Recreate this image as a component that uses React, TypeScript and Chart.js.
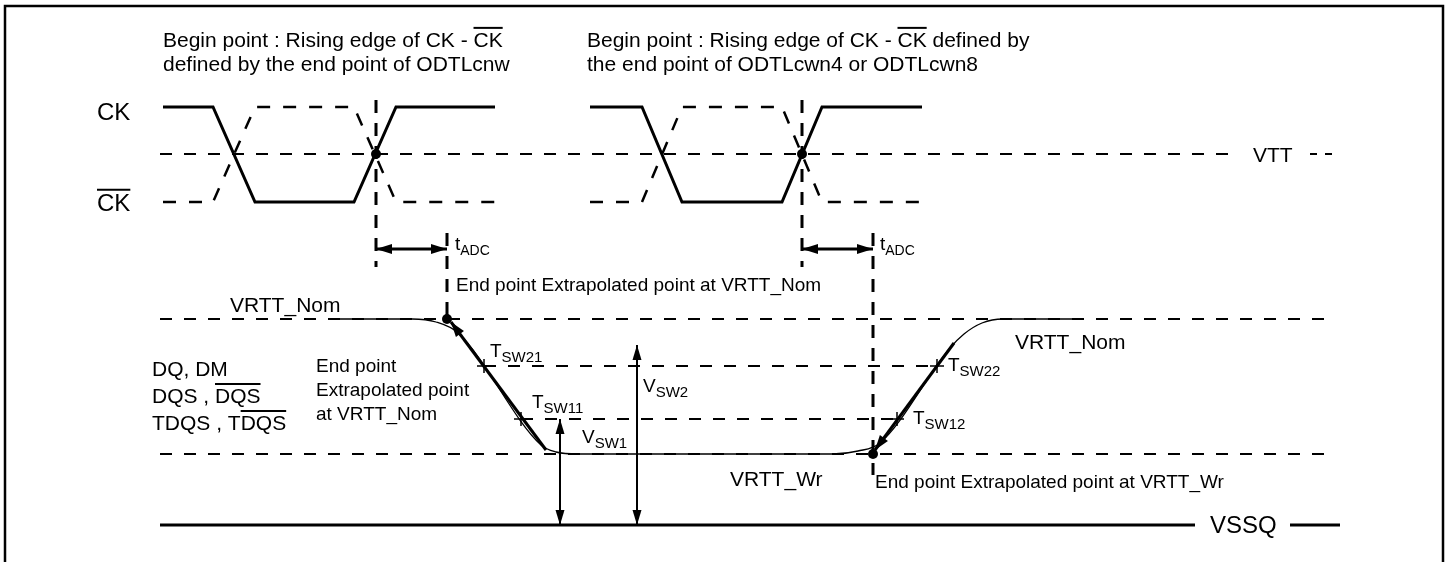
import React, { useEffect, useRef } from 'react';
import { Chart, registerables } from 'chart.js';

Chart.register(...registerables);

const W = 1450;
const H = 562;

// ---- signal levels (diagram units, y grows downward) ----
const CK_HIGH = 107;
const VTT_LEVEL = 154;
const CK_LOW = 202;
const VRTT_NOM = 319;
const VSW2_LEVEL = 366;
const VSW1_LEVEL = 419;
const VRTT_WR = 454;
const VSSQ_LEVEL = 525;

// ---- frame ----
const frameX = [5, 5, 1443, 1443];
const frameY = [562, 6, 6, 562];

// ---- clock edges (time points) ----
const ckTimesA = [163, 213, 255, 354, 396, 495];
const ckTimesB = [590, 642, 682, 782, 822, 922];
const ckLevels = [CK_HIGH, CK_HIGH, CK_LOW, CK_LOW, CK_HIGH, CK_HIGH];
const ckBarLevels = [CK_LOW, CK_LOW, CK_HIGH, CK_HIGH, CK_LOW, CK_LOW];

// ---- reference level spans ----
const vttSpan = [160, 1237];
const vttTailSpan = [1310, 1336];
const nomSpan = [160, 1328];
const wrSpan = [160, 1328];
const vsw2Span = [484, 937];
const vsw1Span = [521, 897];
const vssqSpanA = [160, 1195];
const vssqSpanB = [1290, 1340];

// ---- timing references ----
const ckCross = [376, 802];
const endPointT = [447, 873];
const ckMarkerSpan = [100, 267];
const tadcRefSpanA = [233, VRTT_NOM];
const tadcRefSpanB = [233, 475];
const tadcY = 249;

// ---- DQ waveform ----
const dqX = [337, 412, 436, 458, 541, 556, 578, 833, 858, 880, 950, 964, 982, 1003, 1077];
const dqY = [319, 319, 322, 333, 445, 452, 454, 454, 451, 443, 348, 334, 323, 319, 319];
const fallArrowX = [546, 451];
const fallArrowY = [450, 322];
const riseArrowX = [954, 875];
const riseArrowY = [343, 450];

// ---- switching points ----
const tswX = [484, 521, 937, 897];
const tswY = [VSW2_LEVEL, VSW1_LEVEL, VSW2_LEVEL, VSW1_LEVEL];
const vsw1X = 560;
const vsw2X = 637;
const vsw2Top = 345;

const dotsX = [ckCross[0], ckCross[1], endPointT[0], endPointT[1]];
const dotsY = [VTT_LEVEL, VTT_LEVEL, VRTT_NOM, VRTT_WR];

// ---- annotations ----
type Part = { t: string; over?: boolean; sub?: boolean };
type Label = { parts: Part[]; x: number; y: number; size: number; sub?: number };

const labels: Label[] = [
  { parts: [{ t: 'Begin point : Rising edge of CK - ' }, { t: 'CK', over: true }], x: 163, y: 47, size: 21 },
  { parts: [{ t: 'defined by the end point of ODTLcnw' }], x: 163, y: 71, size: 21 },
  { parts: [{ t: 'Begin point : Rising edge of CK - ' }, { t: 'CK', over: true }, { t: ' defined by' }], x: 587, y: 47, size: 21 },
  { parts: [{ t: 'the end point of ODTLcwn4 or ODTLcwn8' }], x: 587, y: 71, size: 21 },
  { parts: [{ t: 'CK' }], x: 97, y: 120, size: 24 },
  { parts: [{ t: 'CK', over: true }], x: 97, y: 211, size: 24 },
  { parts: [{ t: 'VTT' }], x: 1253, y: 162, size: 21 },
  { parts: [{ t: 't' }, { t: 'ADC', sub: true }], x: 455, y: 250, size: 19, sub: 14 },
  { parts: [{ t: 't' }, { t: 'ADC', sub: true }], x: 880, y: 250, size: 19, sub: 14 },
  { parts: [{ t: 'End point Extrapolated point at VRTT_Nom' }], x: 456, y: 291, size: 19 },
  { parts: [{ t: 'VRTT_Nom' }], x: 230, y: 312, size: 21 },
  { parts: [{ t: 'DQ, DM' }], x: 152, y: 376, size: 21 },
  { parts: [{ t: 'DQS , ' }, { t: 'DQS', over: true }], x: 152, y: 403, size: 21 },
  { parts: [{ t: 'TDQS , T' }, { t: 'DQS', over: true }], x: 152, y: 430, size: 21 },
  { parts: [{ t: 'End point' }], x: 316, y: 372, size: 19 },
  { parts: [{ t: 'Extrapolated point' }], x: 316, y: 396, size: 19 },
  { parts: [{ t: 'at VRTT_Nom' }], x: 316, y: 420, size: 19 },
  { parts: [{ t: 'T' }, { t: 'SW21', sub: true }], x: 490, y: 357, size: 19, sub: 15 },
  { parts: [{ t: 'V' }, { t: 'SW2', sub: true }], x: 643, y: 392, size: 19, sub: 15 },
  { parts: [{ t: 'T' }, { t: 'SW11', sub: true }], x: 532, y: 408, size: 19, sub: 15 },
  { parts: [{ t: 'V' }, { t: 'SW1', sub: true }], x: 582, y: 443, size: 19, sub: 15 },
  { parts: [{ t: 'VRTT_Wr' }], x: 730, y: 486, size: 21 },
  { parts: [{ t: 'End point Extrapolated point at VRTT_Wr' }], x: 875, y: 488, size: 19 },
  { parts: [{ t: 'T' }, { t: 'SW22', sub: true }], x: 948, y: 371, size: 19, sub: 15 },
  { parts: [{ t: 'T' }, { t: 'SW12', sub: true }], x: 913, y: 424, size: 19, sub: 15 },
  { parts: [{ t: 'VRTT_Nom' }], x: 1015, y: 349, size: 21 },
  { parts: [{ t: 'VSSQ' }], x: 1210, y: 533, size: 24 },
];

const FONT = '"Liberation Sans", Arial, Helvetica, sans-serif';

const line = (xs: number[], ys: number[], opts: any = {}) => ({
  data: xs.map((x, i) => ({ x, y: ys[i] })),
  showLine: true,
  pointRadius: 0,
  borderColor: '#000',
  backgroundColor: '#000',
  borderWidth: 2,
  fill: false,
  ...opts,
});

const DASH_H = [12, 12];
const DASH_V = [13, 10];
const DASH_CK = [13, 13];

const arrowPlugin = {
  id: 'arrowHeads',
  afterDatasetsDraw(chart: any) {
    const ctx = chart.ctx;
    chart.data.datasets.forEach((ds: any, i: number) => {
      if (!ds.arrow) return;
      const pts = chart.getDatasetMeta(i).data;
      if (pts.length < 2) return;
      const len = ds.arrowLen || 15;
      const half = ds.arrowHalf || 5;
      const head = (tip: any, from: any) => {
        const dx = tip.x - from.x;
        const dy = tip.y - from.y;
        const d = Math.hypot(dx, dy) || 1;
        const ux = dx / d;
        const uy = dy / d;
        const bx = tip.x - ux * len;
        const by = tip.y - uy * len;
        ctx.beginPath();
        ctx.moveTo(tip.x, tip.y);
        ctx.lineTo(bx - uy * half, by + ux * half);
        ctx.lineTo(bx + uy * half, by - ux * half);
        ctx.closePath();
        ctx.fill();
      };
      ctx.save();
      ctx.fillStyle = '#000';
      const n = pts.length;
      if (ds.arrow === 'end' || ds.arrow === 'both') head(pts[n - 1], pts[n - 2]);
      if (ds.arrow === 'start' || ds.arrow === 'both') head(pts[0], pts[1]);
      ctx.restore();
    });
  },
};

const textPlugin = {
  id: 'richText',
  afterDraw(chart: any) {
    const ctx = chart.ctx;
    const xs = chart.scales.x;
    const ys = chart.scales.y;
    ctx.save();
    ctx.fillStyle = '#000';
    ctx.strokeStyle = '#000';
    ctx.textBaseline = 'alphabetic';
    ctx.textAlign = 'left';
    labels.forEach((lb) => {
      let cx = xs.getPixelForValue(lb.x);
      const by = ys.getPixelForValue(lb.y);
      lb.parts.forEach((p) => {
        const fs = p.sub ? lb.sub || 14 : lb.size;
        ctx.font = `${fs}px ${FONT}`;
        const yy = p.sub ? by + Math.round(lb.size * 0.27) : by;
        ctx.fillText(p.t, cx, yy);
        const w = ctx.measureText(p.t).width;
        if (p.over) {
          const oy = yy - fs * 0.72 - 4;
          ctx.lineWidth = 2;
          ctx.beginPath();
          ctx.moveTo(cx, oy);
          ctx.lineTo(cx + w, oy);
          ctx.stroke();
        }
        cx += w;
      });
    });
    ctx.restore();
  },
};

export default function App() {
  const ref = useRef<HTMLCanvasElement | null>(null);

  useEffect(() => {
    if (!ref.current) return;
    const datasets: any[] = [
      // frame
      line(frameX, frameY, { borderWidth: 2.5 }),
      // reference levels
      line(vttSpan, [VTT_LEVEL, VTT_LEVEL], { borderDash: DASH_H }),
      line(vttTailSpan, [VTT_LEVEL, VTT_LEVEL], { borderDash: [7, 8] }),
      line(nomSpan, [VRTT_NOM, VRTT_NOM], { borderDash: DASH_H }),
      line(wrSpan, [VRTT_WR, VRTT_WR], { borderDash: DASH_H }),
      line(vsw2Span, [VSW2_LEVEL, VSW2_LEVEL], { borderDash: DASH_H }),
      line(vsw1Span, [VSW1_LEVEL, VSW1_LEVEL], { borderDash: DASH_H }),
      line(vssqSpanA, [VSSQ_LEVEL, VSSQ_LEVEL], { borderWidth: 3 }),
      line(vssqSpanB, [VSSQ_LEVEL, VSSQ_LEVEL], { borderWidth: 3 }),
      // clocks
      line(ckTimesA, ckLevels, { borderWidth: 3 }),
      line(ckTimesB, ckLevels, { borderWidth: 3 }),
      line(ckTimesA, ckBarLevels, { borderWidth: 2.5, borderDash: DASH_CK }),
      line(ckTimesB, ckBarLevels, { borderWidth: 2.5, borderDash: DASH_CK }),
      // vertical timing references
      line([ckCross[0], ckCross[0]], ckMarkerSpan, { borderWidth: 3, borderDash: DASH_V }),
      line([ckCross[1], ckCross[1]], ckMarkerSpan, { borderWidth: 3, borderDash: DASH_V }),
      line([endPointT[0], endPointT[0]], tadcRefSpanA, { borderWidth: 3, borderDash: DASH_V }),
      line([endPointT[1], endPointT[1]], tadcRefSpanB, { borderWidth: 3, borderDash: DASH_V }),
      // tADC arrows
      line([ckCross[0], endPointT[0]], [tadcY, tadcY], { borderWidth: 3, arrow: 'both', arrowLen: 16, arrowHalf: 5 }),
      line([ckCross[1], endPointT[1]], [tadcY, tadcY], { borderWidth: 3, arrow: 'both', arrowLen: 16, arrowHalf: 5 }),
      // DQ waveform
      line(dqX, dqY, { borderWidth: 1.3, cubicInterpolationMode: 'monotone' }),
      line(fallArrowX, fallArrowY, { borderWidth: 3, arrow: 'end', arrowLen: 15, arrowHalf: 5 }),
      line(riseArrowX, riseArrowY, { borderWidth: 3, arrow: 'end', arrowLen: 15, arrowHalf: 5 }),
      // VSW arrows
      line([vsw1X, vsw1X], [VSW1_LEVEL, VSSQ_LEVEL], { borderWidth: 2, arrow: 'both', arrowLen: 15, arrowHalf: 4.5 }),
      line([vsw2X, vsw2X], [vsw2Top, VSSQ_LEVEL], { borderWidth: 2, arrow: 'both', arrowLen: 15, arrowHalf: 4.5 }),
      // switching point crosses
      {
        data: tswX.map((x, i) => ({ x, y: tswY[i] })),
        showLine: false,
        pointStyle: 'cross',
        pointRadius: 7,
        pointBorderWidth: 1.5,
        borderColor: '#000',
        backgroundColor: '#000',
      },
      // reference dots
      {
        data: dotsX.map((x, i) => ({ x, y: dotsY[i] })),
        showLine: false,
        pointStyle: 'circle',
        pointRadius: 5,
        pointBorderWidth: 0,
        borderColor: '#000',
        backgroundColor: '#000',
      },
    ];

    const chart = new Chart(ref.current, {
      type: 'scatter',
      data: { datasets },
      options: {
        animation: false,
        responsive: false,
        maintainAspectRatio: false,
        events: [],
        layout: { padding: 0, autoPadding: false },
        plugins: { legend: { display: false }, tooltip: { enabled: false }, title: { display: false } },
        scales: {
          x: { type: 'linear', min: 0, max: W, display: false },
          y: { type: 'linear', min: 0, max: H, reverse: true, display: false },
        },
      },
      plugins: [arrowPlugin, textPlugin],
    } as any);
    return () => chart.destroy();
  }, []);

  return (
    <div style={{ position: 'fixed', left: 0, top: 0, width: W, height: H, background: '#fff' }}>
      <canvas ref={ref} width={W} height={H} style={{ display: 'block' }} />
    </div>
  );
}
